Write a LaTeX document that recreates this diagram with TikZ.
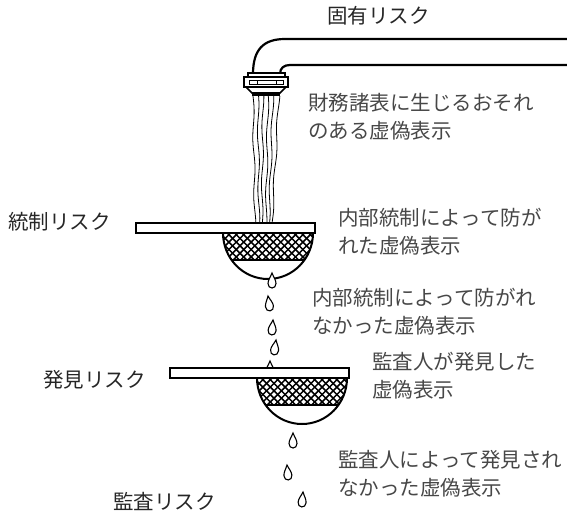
\documentclass[tikz,border=0pt]{standalone}
\usepackage{fontspec}
\newfontfamily\jpfont{Noto Sans CJK JP}

\begin{document}
\begin{tikzpicture}[x=1pt, y=-1pt,
    riskname/.style={anchor=north west, inner sep=0pt, font=\jpfont\fontsize{20.5}{28}\selectfont, text=black!85},
    desc/.style={anchor=north west, inner sep=0pt, align=left, font=\jpfont\fontsize{20.5}{28}\selectfont, text=black!72},
    rim/.style={line width=2pt, fill=white},
    pipe/.style={line width=2.2pt},
    stream/.style={line width=0.8pt},
    waterdrop/.pic={
      \draw[line width=1.1pt, fill=white] (0,0) .. controls (1.5,4) and (4,7) .. (4,10.5)
        .. controls (4,13.3) and (2.2,15) .. (0,15) .. controls (-2.2,15) and (-4,13.3) .. (-4,10.5)
        .. controls (-4,7) and (-1.5,4) .. cycle;
    },
    strainer/.pic={
      \begin{scope}
        \clip (132,10) ellipse [x radius=45, y radius=46];
        \clip (80,10) rectangle (190,37);
        \foreach \k in {0,...,26} {
          \draw[line width=1.5pt] (30+\k*7.4,8) -- ++(40,40);
          \draw[line width=1.5pt] (30+\k*7.4,8) -- ++(-40,40);
        }
      \end{scope}
      \begin{scope}
        \clip (132,10) ellipse [x radius=45, y radius=46];
        \draw[line width=2.2pt] (80,37) -- (190,37);
      \end{scope}
      \draw[line width=2pt] (87,10) arc[start angle=180, end angle=0, x radius=45, y radius=46];
      \draw[rim] (0,0) rectangle (179,10);
    }]
    \useasboundingbox (0,0) rectangle (567,512);

    %tikz pipe and tap
    \draw[pipe] (570,39) -- (285,39) .. controls (263,39) and (253,50) .. (253,74);
    \draw[pipe] (570,65) -- (290,65) .. controls (284,65) and (280,68) .. (280,74);
    \draw[line width=1.6pt, fill=white] (248,73) rectangle (285,77);
    \draw[line width=1.6pt, fill=white] (246,87) -- (252,93) -- (280,93) -- (286,87) -- cycle;
    \draw[line width=1.8pt, fill=white] (244,77) rectangle (288,87);
    \draw[line width=1pt] (249,80.5) rectangle (283,84) (257,80.5) -- (257,84) (276,80.5) -- (276,84);
    \fill (252,92.5) rectangle (280,96);

    % water falling out
    \foreach \xa/\xb/\ph in {253/255/0, 258/259/40, 263/262/80, 268/266/20, 273/269/60, 279/272/100}
      \draw[stream] plot[smooth, domain=0:1, samples=25] ({\xa+(\xb-\xa)*\x+0.9*sin(\x*800+\ph)}, {96+127*\x});

    \pic (sieveA) at (136,223) {strainer};

    \foreach \dx/\dy/\rot in {272/273/0, 268/296/8, 273/320/-5, 276/340/-8, 270/361/0, 293/433/0, 287/465/5, 303/492/-5}
      \pic[rotate=\rot] at (\dx,\dy) {waterdrop};

    \pic (sieveB) at (170,368) {strainer};

    % risks
    \node[riskname] (inh) at (327,6) {固有リスク};
    \node[riskname] (ctrl) at (8,212) {統制リスク};
    \node[riskname] (det) at (43,370) {発見リスク};
    \node[riskname] (aud) at (113,492) {監査リスク};

    % misstatements
    \node[desc] (mis) at (308,93) {財務諸表に生じるおそれ\\のある虚偽表示};
    \node[desc] (prev) at (338,208) {内部統制によって防が\\れた虚偽表示};
    \node[desc] (notprev) at (312,288) {内部統制によって防がれ\\なかった虚偽表示};
    \node[desc] (found) at (372,352) {監査人が発見した\\虚偽表示};
    \node[desc] (notfound) at (338,450) {監査人によって発見され\\なかった虚偽表示};
\end{tikzpicture}
\end{document}
